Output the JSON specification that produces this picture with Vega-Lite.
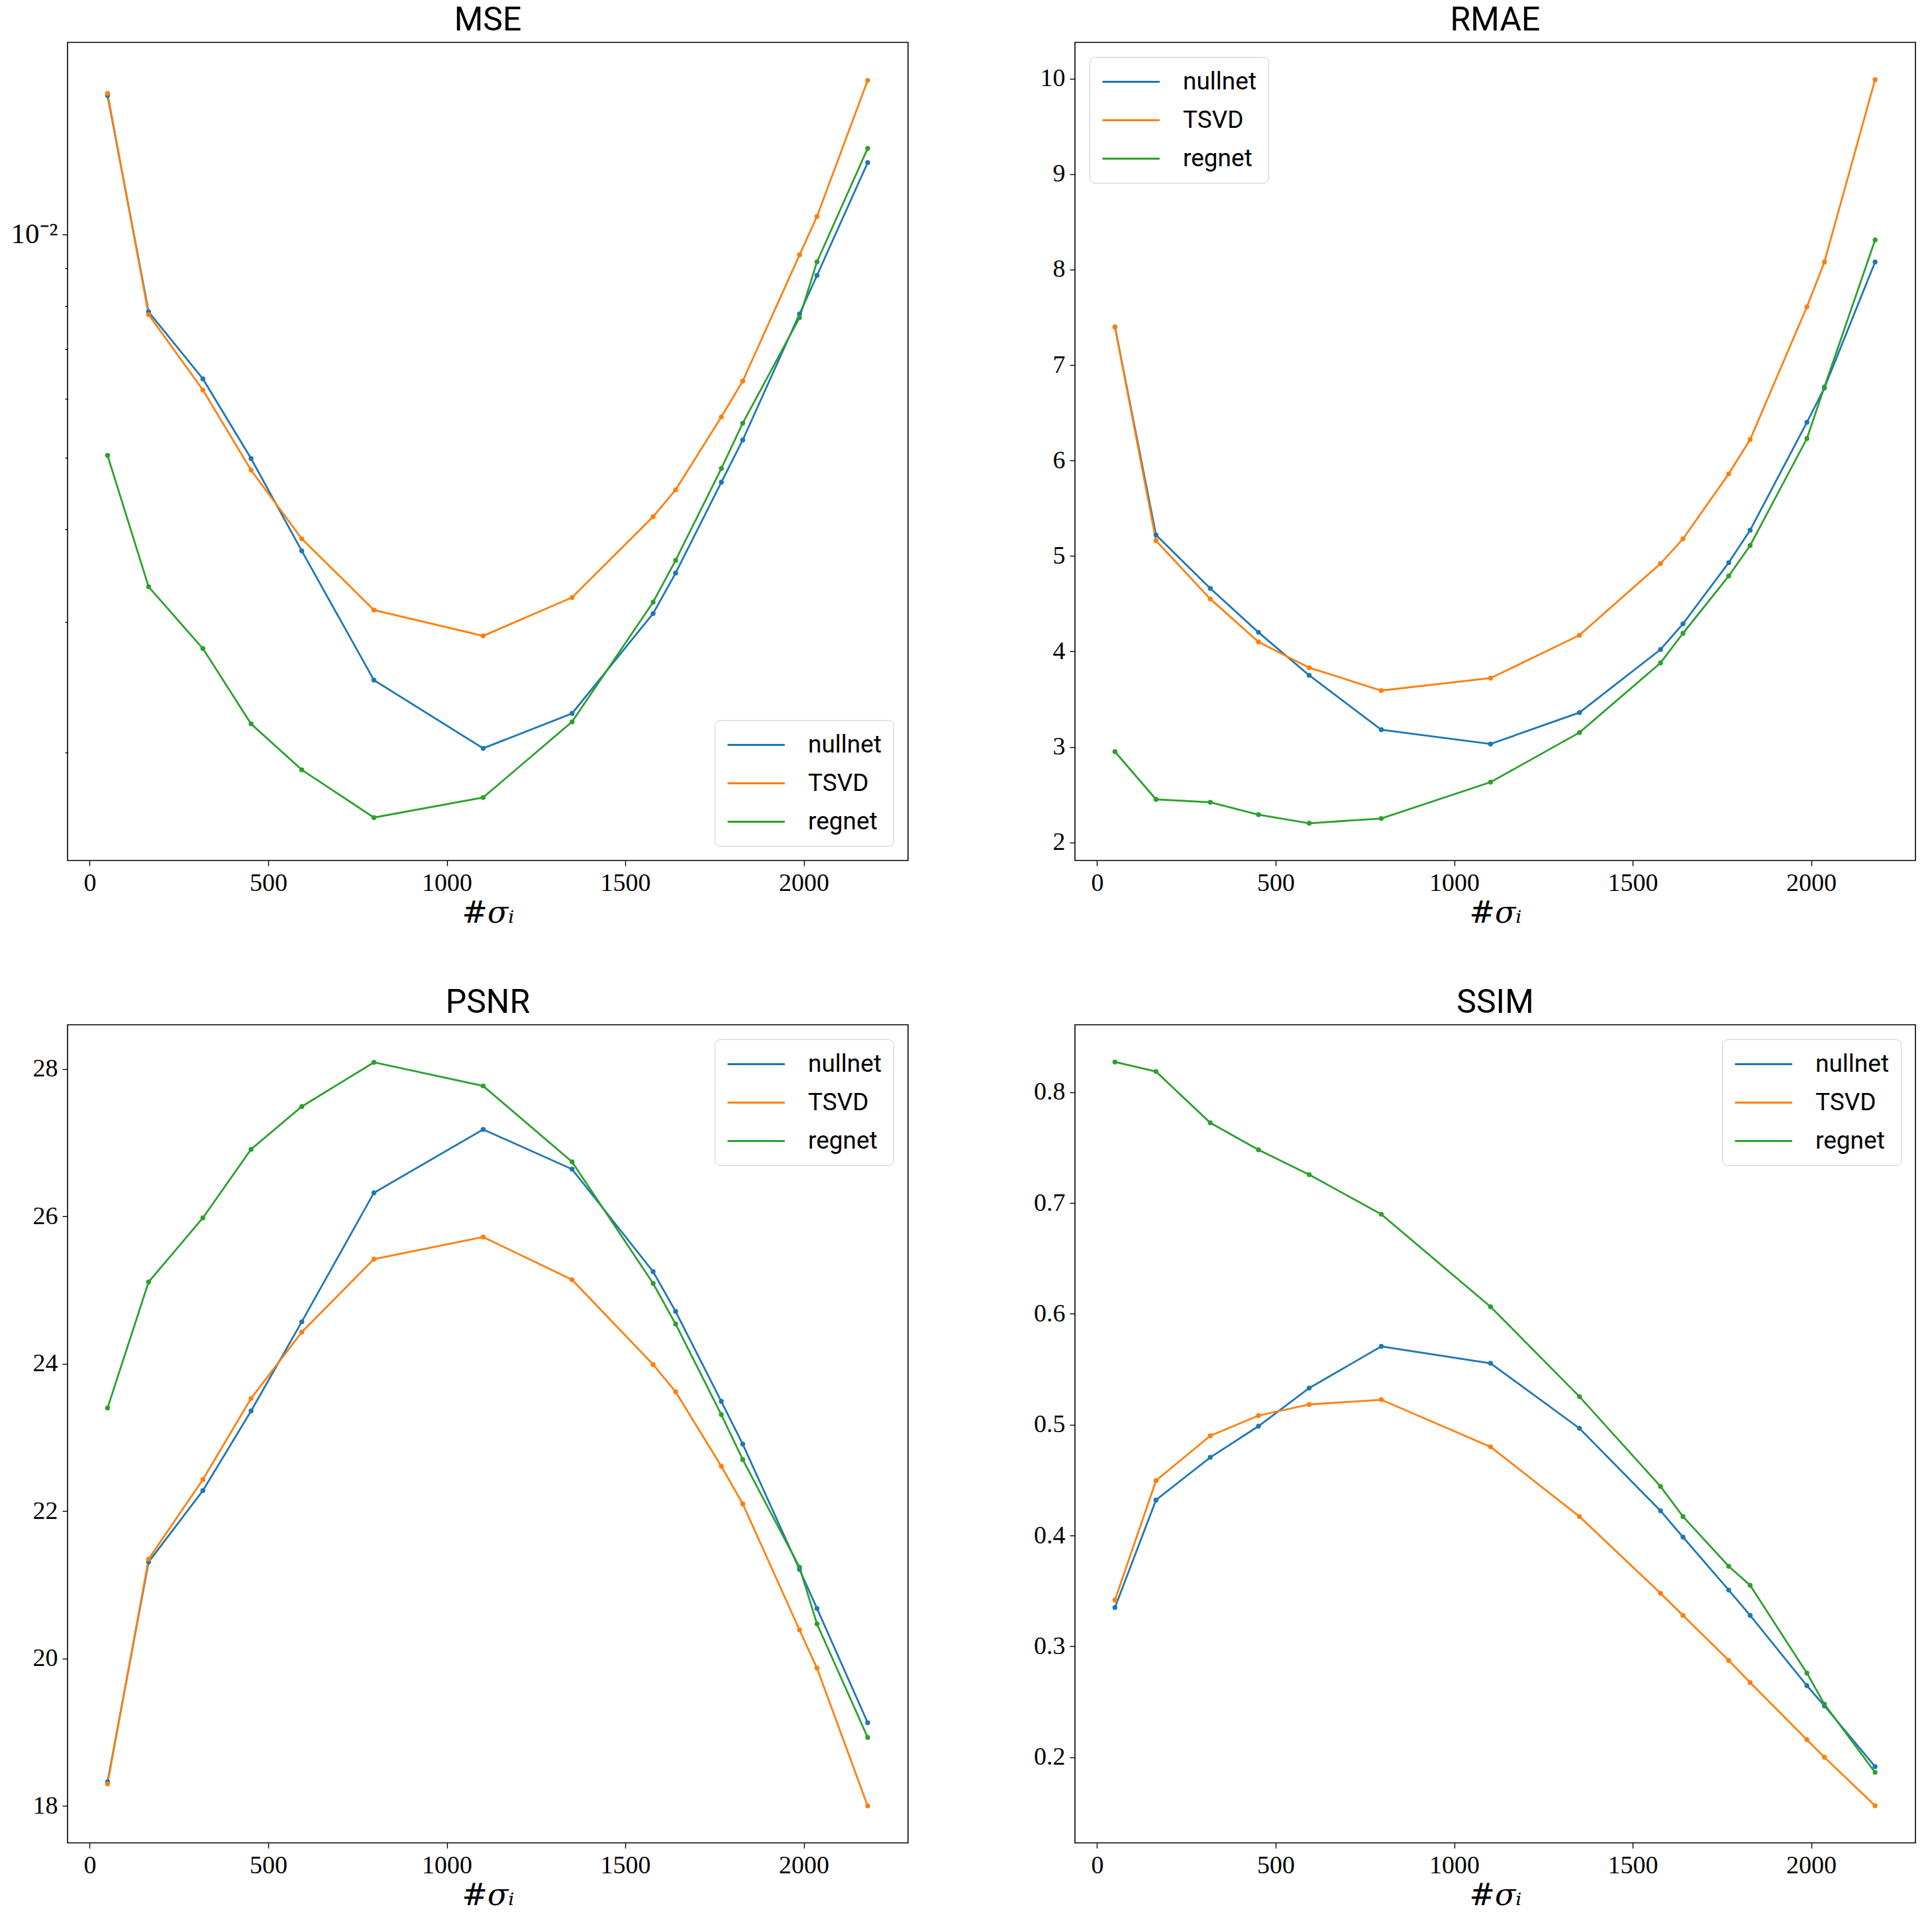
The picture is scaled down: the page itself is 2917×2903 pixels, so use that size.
{
"$schema": "https://vega.github.io/schema/vega-lite/v6.json",
"background": "white",
"padding": {"left": 15, "top": 5, "right": 0, "bottom": 0},
"datasets": {
"d": [
{"m":"MSE","k":"nullnet","n":50,"v":0.01539},{"m":"MSE","k":"nullnet","n":165,"v":0.007859},{"m":"MSE","k":"nullnet","n":317,"v":0.006383},{"m":"MSE","k":"nullnet","n":452,"v":0.004983},{"m":"MSE","k":"nullnet","n":594,"v":0.003741},{"m":"MSE","k":"nullnet","n":796,"v":0.002504},{"m":"MSE","k":"nullnet","n":1102,"v":0.002026},{"m":"MSE","k":"nullnet","n":1351,"v":0.002258},{"m":"MSE","k":"nullnet","n":1578,"v":0.003079},{"m":"MSE","k":"nullnet","n":1641,"v":0.003492},{"m":"MSE","k":"nullnet","n":1769,"v":0.004629},{"m":"MSE","k":"nullnet","n":1829,"v":0.005279},{"m":"MSE","k":"nullnet","n":1988,"v":0.007807},{"m":"MSE","k":"nullnet","n":2037,"v":0.008801},{"m":"MSE","k":"nullnet","n":2179,"v":0.012496},
{"m":"MSE","k":"TSVD","n":50,"v":0.01549},{"m":"MSE","k":"TSVD","n":165,"v":0.007793},{"m":"MSE","k":"TSVD","n":317,"v":0.006166},{"m":"MSE","k":"TSVD","n":452,"v":0.004807},{"m":"MSE","k":"TSVD","n":594,"v":0.003884},{"m":"MSE","k":"TSVD","n":796,"v":0.003113},{"m":"MSE","k":"TSVD","n":1102,"v":0.002873},{"m":"MSE","k":"TSVD","n":1351,"v":0.003237},{"m":"MSE","k":"TSVD","n":1578,"v":0.00416},{"m":"MSE","k":"TSVD","n":1641,"v":0.004522},{"m":"MSE","k":"TSVD","n":1769,"v":0.005671},{"m":"MSE","k":"TSVD","n":1829,"v":0.00634},{"m":"MSE","k":"TSVD","n":1988,"v":0.00938},{"m":"MSE","k":"TSVD","n":2037,"v":0.010573},{"m":"MSE","k":"TSVD","n":2179,"v":0.01613},
{"m":"MSE","k":"regnet","n":50,"v":0.005032},{"m":"MSE","k":"regnet","n":165,"v":0.003346},{"m":"MSE","k":"regnet","n":317,"v":0.002762},{"m":"MSE","k":"regnet","n":452,"v":0.002186},{"m":"MSE","k":"regnet","n":594,"v":0.001895},{"m":"MSE","k":"regnet","n":796,"v":0.001634},{"m":"MSE","k":"regnet","n":1102,"v":0.001739},{"m":"MSE","k":"regnet","n":1351,"v":0.0022},{"m":"MSE","k":"regnet","n":1578,"v":0.00319},{"m":"MSE","k":"regnet","n":1641,"v":0.003632},{"m":"MSE","k":"regnet","n":1769,"v":0.004831},{"m":"MSE","k":"regnet","n":1829,"v":0.005562},{"m":"MSE","k":"regnet","n":1988,"v":0.007718},{"m":"MSE","k":"regnet","n":2037,"v":0.009183},{"m":"MSE","k":"regnet","n":2179,"v":0.013061},
{"m":"RMAE","k":"nullnet","n":50,"v":7.40},{"m":"RMAE","k":"nullnet","n":165,"v":5.22},{"m":"RMAE","k":"nullnet","n":317,"v":4.66},{"m":"RMAE","k":"nullnet","n":452,"v":4.20},{"m":"RMAE","k":"nullnet","n":594,"v":3.75},{"m":"RMAE","k":"nullnet","n":796,"v":3.18},{"m":"RMAE","k":"nullnet","n":1102,"v":3.03},{"m":"RMAE","k":"nullnet","n":1351,"v":3.36},{"m":"RMAE","k":"nullnet","n":1578,"v":4.02},{"m":"RMAE","k":"nullnet","n":1641,"v":4.29},{"m":"RMAE","k":"nullnet","n":1769,"v":4.93},{"m":"RMAE","k":"nullnet","n":1829,"v":5.27},{"m":"RMAE","k":"nullnet","n":1988,"v":6.40},{"m":"RMAE","k":"nullnet","n":2037,"v":6.76},{"m":"RMAE","k":"nullnet","n":2179,"v":8.08},
{"m":"RMAE","k":"TSVD","n":50,"v":7.40},{"m":"RMAE","k":"TSVD","n":165,"v":5.16},{"m":"RMAE","k":"TSVD","n":317,"v":4.55},{"m":"RMAE","k":"TSVD","n":452,"v":4.10},{"m":"RMAE","k":"TSVD","n":594,"v":3.83},{"m":"RMAE","k":"TSVD","n":796,"v":3.59},{"m":"RMAE","k":"TSVD","n":1102,"v":3.72},{"m":"RMAE","k":"TSVD","n":1351,"v":4.17},{"m":"RMAE","k":"TSVD","n":1578,"v":4.92},{"m":"RMAE","k":"TSVD","n":1641,"v":5.18},{"m":"RMAE","k":"TSVD","n":1769,"v":5.86},{"m":"RMAE","k":"TSVD","n":1829,"v":6.22},{"m":"RMAE","k":"TSVD","n":1988,"v":7.61},{"m":"RMAE","k":"TSVD","n":2037,"v":8.08},{"m":"RMAE","k":"TSVD","n":2179,"v":9.99},
{"m":"RMAE","k":"regnet","n":50,"v":2.95},{"m":"RMAE","k":"regnet","n":165,"v":2.45},{"m":"RMAE","k":"regnet","n":317,"v":2.42},{"m":"RMAE","k":"regnet","n":452,"v":2.29},{"m":"RMAE","k":"regnet","n":594,"v":2.20},{"m":"RMAE","k":"regnet","n":796,"v":2.25},{"m":"RMAE","k":"regnet","n":1102,"v":2.63},{"m":"RMAE","k":"regnet","n":1351,"v":3.15},{"m":"RMAE","k":"regnet","n":1578,"v":3.88},{"m":"RMAE","k":"regnet","n":1641,"v":4.19},{"m":"RMAE","k":"regnet","n":1769,"v":4.79},{"m":"RMAE","k":"regnet","n":1829,"v":5.11},{"m":"RMAE","k":"regnet","n":1988,"v":6.23},{"m":"RMAE","k":"regnet","n":2037,"v":6.77},{"m":"RMAE","k":"regnet","n":2179,"v":8.31},
{"m":"PSNR","k":"nullnet","n":50,"v":18.33},{"m":"PSNR","k":"nullnet","n":165,"v":21.31},{"m":"PSNR","k":"nullnet","n":317,"v":22.28},{"m":"PSNR","k":"nullnet","n":452,"v":23.36},{"m":"PSNR","k":"nullnet","n":594,"v":24.57},{"m":"PSNR","k":"nullnet","n":796,"v":26.32},{"m":"PSNR","k":"nullnet","n":1102,"v":27.18},{"m":"PSNR","k":"nullnet","n":1351,"v":26.64},{"m":"PSNR","k":"nullnet","n":1578,"v":25.25},{"m":"PSNR","k":"nullnet","n":1641,"v":24.71},{"m":"PSNR","k":"nullnet","n":1769,"v":23.49},{"m":"PSNR","k":"nullnet","n":1829,"v":22.91},{"m":"PSNR","k":"nullnet","n":1988,"v":21.21},{"m":"PSNR","k":"nullnet","n":2037,"v":20.68},{"m":"PSNR","k":"nullnet","n":2179,"v":19.13},
{"m":"PSNR","k":"TSVD","n":50,"v":18.30},{"m":"PSNR","k":"TSVD","n":165,"v":21.35},{"m":"PSNR","k":"TSVD","n":317,"v":22.43},{"m":"PSNR","k":"TSVD","n":452,"v":23.53},{"m":"PSNR","k":"TSVD","n":594,"v":24.43},{"m":"PSNR","k":"TSVD","n":796,"v":25.42},{"m":"PSNR","k":"TSVD","n":1102,"v":25.72},{"m":"PSNR","k":"TSVD","n":1351,"v":25.14},{"m":"PSNR","k":"TSVD","n":1578,"v":23.99},{"m":"PSNR","k":"TSVD","n":1641,"v":23.62},{"m":"PSNR","k":"TSVD","n":1769,"v":22.61},{"m":"PSNR","k":"TSVD","n":1829,"v":22.10},{"m":"PSNR","k":"TSVD","n":1988,"v":20.39},{"m":"PSNR","k":"TSVD","n":2037,"v":19.87},{"m":"PSNR","k":"TSVD","n":2179,"v":18.00},
{"m":"PSNR","k":"regnet","n":50,"v":23.40},{"m":"PSNR","k":"regnet","n":165,"v":25.11},{"m":"PSNR","k":"regnet","n":317,"v":25.98},{"m":"PSNR","k":"regnet","n":452,"v":26.91},{"m":"PSNR","k":"regnet","n":594,"v":27.49},{"m":"PSNR","k":"regnet","n":796,"v":28.09},{"m":"PSNR","k":"regnet","n":1102,"v":27.77},{"m":"PSNR","k":"regnet","n":1351,"v":26.74},{"m":"PSNR","k":"regnet","n":1578,"v":25.09},{"m":"PSNR","k":"regnet","n":1641,"v":24.54},{"m":"PSNR","k":"regnet","n":1769,"v":23.31},{"m":"PSNR","k":"regnet","n":1829,"v":22.70},{"m":"PSNR","k":"regnet","n":1988,"v":21.24},{"m":"PSNR","k":"regnet","n":2037,"v":20.47},{"m":"PSNR","k":"regnet","n":2179,"v":18.93},
{"m":"SSIM","k":"nullnet","n":50,"v":0.335},{"m":"SSIM","k":"nullnet","n":165,"v":0.432},{"m":"SSIM","k":"nullnet","n":317,"v":0.4705},{"m":"SSIM","k":"nullnet","n":452,"v":0.4986},{"m":"SSIM","k":"nullnet","n":594,"v":0.533},{"m":"SSIM","k":"nullnet","n":796,"v":0.5706},{"m":"SSIM","k":"nullnet","n":1102,"v":0.5554},{"m":"SSIM","k":"nullnet","n":1351,"v":0.4967},{"m":"SSIM","k":"nullnet","n":1578,"v":0.4223},{"m":"SSIM","k":"nullnet","n":1641,"v":0.3985},{"m":"SSIM","k":"nullnet","n":1769,"v":0.3508},{"m":"SSIM","k":"nullnet","n":1829,"v":0.3279},{"m":"SSIM","k":"nullnet","n":1988,"v":0.2645},{"m":"SSIM","k":"nullnet","n":2037,"v":0.2463},{"m":"SSIM","k":"nullnet","n":2179,"v":0.1915},
{"m":"SSIM","k":"TSVD","n":50,"v":0.3417},{"m":"SSIM","k":"TSVD","n":165,"v":0.4495},{"m":"SSIM","k":"TSVD","n":317,"v":0.490},{"m":"SSIM","k":"TSVD","n":452,"v":0.5082},{"m":"SSIM","k":"TSVD","n":594,"v":0.5182},{"m":"SSIM","k":"TSVD","n":796,"v":0.5225},{"m":"SSIM","k":"TSVD","n":1102,"v":0.480},{"m":"SSIM","k":"TSVD","n":1351,"v":0.4171},{"m":"SSIM","k":"TSVD","n":1578,"v":0.3479},{"m":"SSIM","k":"TSVD","n":1641,"v":0.3279},{"m":"SSIM","k":"TSVD","n":1769,"v":0.2874},{"m":"SSIM","k":"TSVD","n":1829,"v":0.2673},{"m":"SSIM","k":"TSVD","n":1988,"v":0.2158},{"m":"SSIM","k":"TSVD","n":2037,"v":0.200},{"m":"SSIM","k":"TSVD","n":2179,"v":0.1562},
{"m":"SSIM","k":"regnet","n":50,"v":0.8272},{"m":"SSIM","k":"regnet","n":165,"v":0.8186},{"m":"SSIM","k":"regnet","n":317,"v":0.7723},{"m":"SSIM","k":"regnet","n":452,"v":0.748},{"m":"SSIM","k":"regnet","n":594,"v":0.7256},{"m":"SSIM","k":"regnet","n":796,"v":0.6898},{"m":"SSIM","k":"regnet","n":1102,"v":0.6064},{"m":"SSIM","k":"regnet","n":1351,"v":0.5253},{"m":"SSIM","k":"regnet","n":1578,"v":0.4443},{"m":"SSIM","k":"regnet","n":1641,"v":0.4171},{"m":"SSIM","k":"regnet","n":1769,"v":0.3722},{"m":"SSIM","k":"regnet","n":1829,"v":0.3551},{"m":"SSIM","k":"regnet","n":1988,"v":0.2759},{"m":"SSIM","k":"regnet","n":2037,"v":0.2478},{"m":"SSIM","k":"regnet","n":2179,"v":0.1863}
]
},
"columns": 2,
"bounds": "flush",
"spacing": {"row": 248, "column": 252},
"resolve": {"scale": {"color": "independent"}, "legend": {"color": "independent"}},
"concat": [
{
 "title": "MSE",
 "width": 1269, "height": 1235,
 "data": {"name": "d"},
 "transform": [{"filter": "datum.m == 'MSE'"}],
 "encoding": {
  "x": {"field": "n", "type": "quantitative", "scale": {"domain": [-62, 2292], "nice": false, "zero": false}, "axis": {"values": [0, 500, 1000, 1500, 2000], "format": "d", "title": "#σᵢ"}},
  "y": {"field": "v", "type": "quantitative", "scale": {"type": "log", "domain": [0.00143, 0.01815], "nice": false}, "axis": {"title": null, "values": [0.002, 0.003, 0.004, 0.005, 0.006, 0.007, 0.008, 0.009, 0.01], "labelExpr": "datum.value == 0.01 ? '10⁻²' : ''", "labelFontSize": {"condition": {"test": "datum.value == 0.01", "value": 43}, "value": 37}, "tickSize": {"condition": {"test": "datum.value == 0.01", "value": 8}, "value": 4}}}
 },
 "layer": [
  {"mark": {"type": "line", "strokeWidth": 2.8}, "encoding": {"color": {"field": "k", "type": "nominal", "scale": {"domain": ["nullnet", "TSVD", "regnet"], "range": ["#1f77b4", "#ff7f0e", "#2ca02c"]}, "legend": {"title": null, "orient": "bottom-right", "offset": 22}}}},
  {"mark": {"type": "point", "filled": true, "size": 55, "opacity": 1}, "encoding": {"color": {"field": "k", "type": "nominal", "scale": {"domain": ["nullnet", "TSVD", "regnet"], "range": ["#1f77b4", "#ff7f0e", "#2ca02c"]}, "legend": null}}}
 ]
},
{
 "title": "RMAE",
 "width": 1269, "height": 1235,
 "data": {"name": "d"},
 "transform": [{"filter": "datum.m == 'RMAE'"}],
 "encoding": {
  "x": {"field": "n", "type": "quantitative", "scale": {"domain": [-62, 2292], "nice": false, "zero": false}, "axis": {"values": [0, 500, 1000, 1500, 2000], "format": "d", "title": "#σᵢ"}},
  "y": {"field": "v", "type": "quantitative", "scale": {"domain": [1.81, 10.38], "nice": false, "zero": false}, "axis": {"title": null, "values": [2, 3, 4, 5, 6, 7, 8, 9, 10], "format": "d"}}
 },
 "layer": [
  {"mark": {"type": "line", "strokeWidth": 2.8}, "encoding": {"color": {"field": "k", "type": "nominal", "scale": {"domain": ["nullnet", "TSVD", "regnet"], "range": ["#1f77b4", "#ff7f0e", "#2ca02c"]}, "legend": {"title": null, "orient": "top-left", "offset": 22}}}},
  {"mark": {"type": "point", "filled": true, "size": 55, "opacity": 1}, "encoding": {"color": {"field": "k", "type": "nominal", "scale": {"domain": ["nullnet", "TSVD", "regnet"], "range": ["#1f77b4", "#ff7f0e", "#2ca02c"]}, "legend": null}}}
 ]
},
{
 "title": "PSNR",
 "width": 1269, "height": 1235,
 "data": {"name": "d"},
 "transform": [{"filter": "datum.m == 'PSNR'"}],
 "encoding": {
  "x": {"field": "n", "type": "quantitative", "scale": {"domain": [-62, 2292], "nice": false, "zero": false}, "axis": {"values": [0, 500, 1000, 1500, 2000], "format": "d", "title": "#σᵢ"}},
  "y": {"field": "v", "type": "quantitative", "scale": {"domain": [17.5, 28.6], "nice": false, "zero": false}, "axis": {"title": null, "values": [18, 20, 22, 24, 26, 28], "format": "d"}}
 },
 "layer": [
  {"mark": {"type": "line", "strokeWidth": 2.8}, "encoding": {"color": {"field": "k", "type": "nominal", "scale": {"domain": ["nullnet", "TSVD", "regnet"], "range": ["#1f77b4", "#ff7f0e", "#2ca02c"]}, "legend": {"title": null, "orient": "top-right", "offset": 22}}}},
  {"mark": {"type": "point", "filled": true, "size": 55, "opacity": 1}, "encoding": {"color": {"field": "k", "type": "nominal", "scale": {"domain": ["nullnet", "TSVD", "regnet"], "range": ["#1f77b4", "#ff7f0e", "#2ca02c"]}, "legend": null}}}
 ]
},
{
 "title": "SSIM",
 "width": 1269, "height": 1235,
 "data": {"name": "d"},
 "transform": [{"filter": "datum.m == 'SSIM'"}],
 "encoding": {
  "x": {"field": "n", "type": "quantitative", "scale": {"domain": [-62, 2292], "nice": false, "zero": false}, "axis": {"values": [0, 500, 1000, 1500, 2000], "format": "d", "title": "#σᵢ"}},
  "y": {"field": "v", "type": "quantitative", "scale": {"domain": [0.1227, 0.8608], "nice": false, "zero": false}, "axis": {"title": null, "values": [0.2, 0.3, 0.4, 0.5, 0.6, 0.7, 0.8], "format": ".1f"}}
 },
 "layer": [
  {"mark": {"type": "line", "strokeWidth": 2.8}, "encoding": {"color": {"field": "k", "type": "nominal", "scale": {"domain": ["nullnet", "TSVD", "regnet"], "range": ["#1f77b4", "#ff7f0e", "#2ca02c"]}, "legend": {"title": null, "orient": "top-right", "offset": 22}}}},
  {"mark": {"type": "point", "filled": true, "size": 55, "opacity": 1}, "encoding": {"color": {"field": "k", "type": "nominal", "scale": {"domain": ["nullnet", "TSVD", "regnet"], "range": ["#1f77b4", "#ff7f0e", "#2ca02c"]}, "legend": null}}}
 ]
}
],
"config": {
 "view": {"stroke": "#000000", "strokeWidth": 1.6},
 "axis": {"domain": false, "grid": false, "tickColor": "#000000", "tickSize": 8, "tickWidth": 1.4, "labelFont": "Liberation Serif", "labelFontSize": 38, "labelColor": "#000000", "labelPadding": 7, "labelFlush": false, "labelOverlap": false, "titleFont": "DejaVu Serif", "titleFontSize": 46, "titleFontStyle": "italic", "titleFontWeight": "normal", "titleColor": "#000000", "titlePadding": 4},
 "title": {"font": "Roboto", "fontSize": 50, "fontWeight": "normal", "color": "#000000", "offset": 8, "anchor": "middle", "frame": "group"},
 "legend": {"symbolType": "M-1,0H3.8", "symbolSize": 1296, "symbolStrokeWidth": 3, "labelFont": "Roboto", "labelFontSize": 37, "labelColor": "#000000", "labelOffset": 84, "rowPadding": 20, "padding": 18, "strokeColor": "#cccccc", "fillColor": "rgba(255,255,255,0.8)", "cornerRadius": 8}
}
}
